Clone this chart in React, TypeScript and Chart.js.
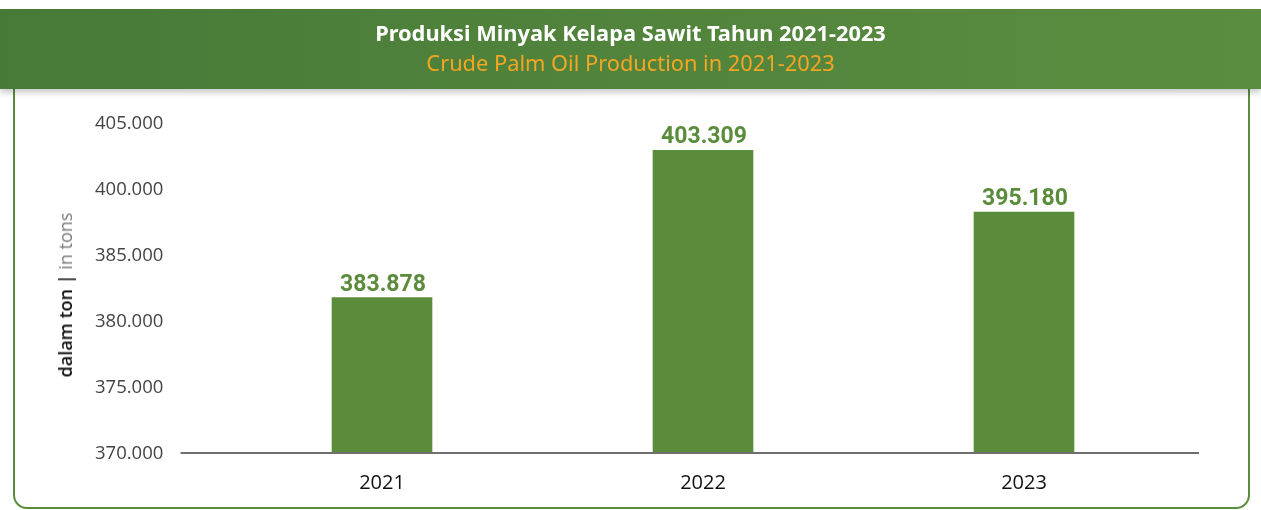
import React, { useEffect, useRef } from "react";
import { Chart, registerables } from "chart.js";

Chart.register(...registerables);

// ---- Data ----
const categories = ["2021", "2022", "2023"];
const production = [383878, 403309, 395180]; // tons
// The reference prints these tick labels at evenly spaced positions
const yTickLabels = ["370.000", "375.000", "380.000", "385.000", "400.000", "405.000"];
const titleText = "Produksi Minyak Kelapa Sawit Tahun 2021-2023";
const subtitleText = "Crude Palm Oil Production in 2021-2023";
const axisTitleMain = "dalam ton |";
const axisTitleSub = "in tons";

// Scale range chosen so bars sit as drawn in the reference
const Y_MIN = 363340;
const Y_MAX = 406800;

const GREEN = "#5b8c3c";

const fmt = (v: number) => String(v).replace(/\B(?=(\d{3})+(?!\d))/g, ".");

const valueLabelPlugin = {
  id: "valueLabels",
  afterDatasetsDraw(chart: any) {
    const ctx = chart.ctx;
    const meta = chart.getDatasetMeta(0);
    ctx.save();
    ctx.font = "700 23px Roboto";
    ctx.fillStyle = GREEN;
    ctx.textAlign = "center";
    ctx.textBaseline = "alphabetic";
    meta.data.forEach((bar: any, i: number) => {
      ctx.fillText(fmt(production[i]), bar.x + 1, bar.y - 7);
    });
    ctx.restore();
  },
};

const baselinePlugin = {
  id: "baseline",
  afterDatasetsDraw(chart: any) {
    const { ctx, chartArea, scales } = chart;
    const y = Math.round(scales.y.getPixelForValue(scales.y.min));
    ctx.save();
    ctx.strokeStyle = "#6f6f6f";
    ctx.lineWidth = 2;
    ctx.beginPath();
    ctx.moveTo(chartArea.left - 41, y);
    ctx.lineTo(chartArea.right + 14.5, y);
    ctx.stroke();
    ctx.restore();
  },
};

export default function App() {
  const canvasRef = useRef<HTMLCanvasElement | null>(null);

  useEffect(() => {
    if (!canvasRef.current) return;
    const chart = new Chart(canvasRef.current, {
      type: "bar",
      data: {
        labels: categories,
        datasets: [
          {
            data: production,
            backgroundColor: GREEN,
            borderWidth: 0,
            barThickness: 100,
          },
        ],
      },
      options: {
        animation: false,
        responsive: false,
        maintainAspectRatio: false,
        layout: {
          padding: { left: 95, right: 76.5, top: 34, bottom: 0 },
        },
        plugins: {
          legend: { display: false },
          tooltip: { enabled: false },
          title: { display: false },
        },
        scales: {
          x: {
            grid: { display: false, drawTicks: false },
            border: { display: false },
            ticks: {
              color: "#111111",
              font: { family: "'Open Sans'", size: 20 },
              padding: 17.7,
            },
            afterFit: (scale: any) => {
              scale.height = 56.7;
            },
          },
          y: {
            min: Y_MIN,
            max: Y_MAX,
            grid: { display: false, drawTicks: false },
            border: { display: false },
            afterFit: (scale: any) => {
              scale.width = 126.5;
            },
            afterBuildTicks: (scale: any) => {
              const n = yTickLabels.length - 1;
              scale.ticks = yTickLabels.map((_, i) => ({
                value: Y_MIN + (i * (Y_MAX - Y_MIN)) / n,
              }));
            },
            ticks: {
              color: "#444444",
              font: { family: "'Open Sans'", size: 18.5 },
              padding: 0,
              crossAlign: "far",
              callback: (_v: any, i: number) => yTickLabels[i],
            },
          },
        },
      },
      plugins: [valueLabelPlugin, baselinePlugin],
    });
    return () => chart.destroy();
  }, []);

  return (
    <div
      style={{
        position: "absolute",
        left: 0,
        top: 0,
        width: 1261,
        height: 510,
        background: "#ffffff",
        overflow: "hidden",
      }}
    >
      <div
        style={{
          position: "absolute",
          left: 13,
          top: 60,
          width: 1233,
          height: 445,
          border: `2px solid ${GREEN}`,
          borderRadius: "0 0 14px 14px",
        }}
      />
      <canvas
        ref={canvasRef}
        width={1261}
        height={420}
        style={{ position: "absolute", left: 0, top: 90, width: 1261, height: 420 }}
      />
      <div
        style={{
          position: "absolute",
          left: 65,
          top: 295,
          transform: "translate(-50%, -50%) rotate(-90deg)",
          whiteSpace: "nowrap",
          fontFamily: "'Open Sans'",
          fontSize: 18,
          lineHeight: "20px",
        }}
      >
        <span style={{ color: "#111111", fontWeight: 600 }}>{axisTitleMain}</span>{" "}
        <span style={{ color: "#7a7a7a" }}>{axisTitleSub}</span>
      </div>
      <div
        style={{
          position: "absolute",
          left: 0,
          top: 9,
          width: 1261,
          height: 80,
          background: "linear-gradient(to right, #477a37, #5b8d40)",
          boxShadow: "0 4px 6px rgba(0,0,0,0.2)",
          fontFamily: "'Noto Sans'",
          textAlign: "center",
        }}
      >
        <div
          style={{
            position: "absolute",
            left: 0,
            right: 0,
            top: 9,
            color: "#ffffff",
            fontWeight: 700,
            fontSize: 21.8,
            lineHeight: "30px",
          }}
        >
          {titleText}
        </div>
        <div
          style={{
            position: "absolute",
            left: 0,
            right: 0,
            top: 39,
            color: "#f5a623",
            fontSize: 21.8,
            lineHeight: "30px",
          }}
        >
          {subtitleText}
        </div>
      </div>
    </div>
  );
}
